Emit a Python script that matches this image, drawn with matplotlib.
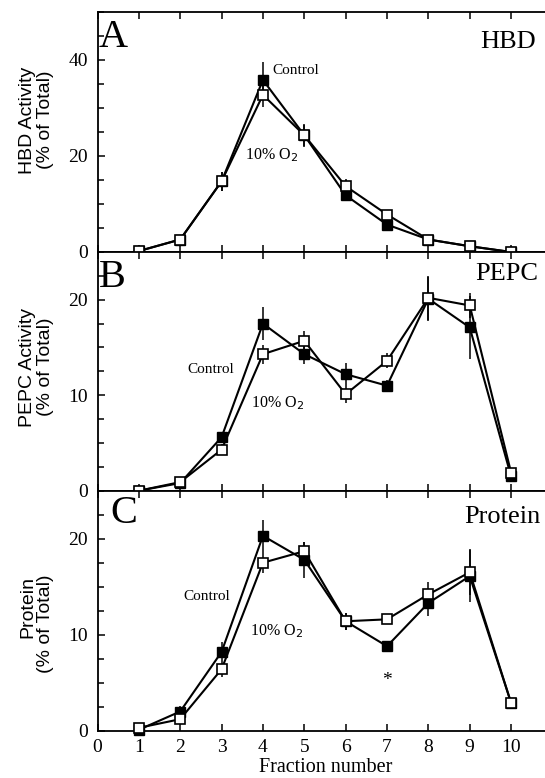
import matplotlib
matplotlib.use("Agg")
import matplotlib.pyplot as plt
from matplotlib.ticker import MultipleLocator

# ---------------- data ----------------
fractions = [1, 2, 3, 4, 5, 6, 7, 8, 9, 10]
xtick_labels = ["0", "1", "2", "3", "4", "5", "6", "7", "8", "9", "10"]

hbd_control = [0.2, 2.6, 14.7, 35.8, 24.3, 11.8, 5.7, 2.6, 1.2, 0.0]
hbd_control_err = [0.3, 0.5, 2.0, 3.8, 2.2, 1.2, 0.8, 0.3, 0.3, 0.3]
hbd_o2 = [0.2, 2.6, 14.7, 32.7, 24.3, 13.7, 7.8, 2.6, 1.2, 0.0]
hbd_o2_err = [0.3, 0.5, 2.0, 2.5, 2.4, 1.5, 0.9, 0.3, 0.3, 0.3]

pepc_control = [0.0, 0.8, 5.6, 17.5, 14.3, 12.2, 11.0, 20.1, 17.1, 1.5]
pepc_control_err = [0.2, 0.3, 0.6, 1.7, 1.0, 1.2, 0.6, 2.3, 3.3, 0.3]
pepc_o2 = [0.0, 0.9, 4.3, 14.3, 15.7, 10.1, 13.6, 20.2, 19.4, 1.9]
pepc_o2_err = [0.2, 0.3, 0.6, 1.0, 1.0, 0.9, 0.8, 2.3, 1.3, 0.3]

prot_control = [0.1, 2.0, 8.2, 20.3, 17.8, 11.4, 8.8, 13.3, 16.1, 2.9]
prot_control_err = [0.2, 0.6, 1.0, 1.7, 1.9, 0.9, 0.3, 1.3, 2.7, 0.5]
prot_o2 = [0.3, 1.2, 6.4, 17.5, 18.7, 11.4, 11.6, 14.2, 16.5, 2.9]
prot_o2_err = [0.2, 0.5, 0.8, 1.1, 1.0, 0.9, 0.3, 1.3, 2.4, 0.5]

SERIF = ["Liberation Serif", "DejaVu Serif"]
SANS = ["Liberation Sans", "DejaVu Sans"]

W, H = 545, 778
fig = plt.figure(figsize=(W / 100, H / 100), dpi=100)

def fx(x):
    return x / W

def fy(y):
    return 1 - y / H

left = 97.5
panels = [
    (11.7, 252.0, hbd_control, hbd_control_err, hbd_o2, hbd_o2_err, 50, 20, 5, "A", "HBD",
     (99, 47), (536, 48), (272, 71), (272, 155), "HBD Activity", "(% of Total)", 120, 120),
    (252.0, 490.7, pepc_control, pepc_control_err, pepc_o2, pepc_o2_err, 25, 10, 2.5, "B", "PEPC",
     (99, 287), (538, 280), (187, 370), (278, 403), "PEPC Activity", "(% of Total)", 367, 367),
    (490.7, 730.7, prot_control, prot_control_err, prot_o2, prot_o2_err, 25, 10, 2.5, "C", "Protein",
     (110, 523), (540, 523), (183, 597), (277, 631), "Protein", "(% of Total)", 607, 624),
]

axes = []
for (top, bot, ctrl, cerr, o2, oerr, ymax, major, minor, letter, name,
     lxy, nxy, cxy, oxy, yl1, yl2, yl1y, yl2y) in panels:
    ax = fig.add_axes([fx(left), fy(bot), 1 - fx(left), (bot - top) / H])
    axes.append(ax)
    ax.set_xlim(0, 10.82)
    ax.set_ylim(0, ymax)
    ax.spines["right"].set_visible(False)
    for s in ("left", "top", "bottom"):
        ax.spines[s].set_linewidth(1.3)
    ax.xaxis.set_major_locator(MultipleLocator(1))
    ax.yaxis.set_major_locator(MultipleLocator(major))
    ax.yaxis.set_minor_locator(MultipleLocator(minor))
    ax.tick_params(axis="both", which="both", direction="in", width=1.1)
    ax.tick_params(axis="both", which="major", length=5)
    ax.tick_params(axis="both", which="minor", length=4.5)
    ax.tick_params(axis="x", top=True, bottom=True, labelbottom=False)
    ax.tick_params(axis="y", left=True, right=False, labelsize=14, pad=7)
    for lab in ax.get_yticklabels():
        lab.set_family(SERIF)

    # Control: filled squares; 10% O2: open squares
    ax.errorbar(fractions, ctrl, yerr=cerr, fmt="none", ecolor="black", elinewidth=1.1,
                capsize=0, zorder=2)
    ax.errorbar(fractions, o2, yerr=oerr, fmt="none", ecolor="black", elinewidth=1.1,
                capsize=0, zorder=2)
    ax.plot(fractions, ctrl, color="black", lw=1.5, marker="s", ms=6.5,
            mfc="black", mec="black", mew=1.0, zorder=3, clip_on=False)
    ax.plot(fractions, o2, color="black", lw=1.5, marker="s", ms=6.5,
            mfc="white", mec="black", mew=1.2, zorder=4, clip_on=False)

    fig.text(fx(lxy[0]), fy(lxy[1]), letter, family=SERIF, fontsize=29,
             ha="left", va="baseline")
    fig.text(fx(nxy[0]), fy(nxy[1]), name, family=SERIF, fontsize=19,
             ha="right", va="baseline")
    fig.text(fx(cxy[0]), fy(cxy[1]), "Control", family=SERIF, fontsize=11,
             ha="left", va="center")
    fig.text(fx(oxy[0]), fy(oxy[1]), "10% O$_2$", family=SERIF, fontsize=11.5,
             ha="center", va="center")
    fig.text(fx(28), fy(yl1y), yl1, family=SANS, fontsize=14, rotation=90,
             ha="center", va="center")
    fig.text(fx(46), fy(yl2y), yl2, family=SANS, fontsize=14, rotation=90,
             ha="center", va="center")

axC = axes[-1]
axC.set_xticks(range(0, 11))
axC.tick_params(axis="x", labelbottom=True, labelsize=14, pad=6)
axC.set_xticklabels(xtick_labels)
for lab in axC.get_xticklabels():
    lab.set_family(SERIF)
axC.text(7, 5.2, "*", family=SERIF, fontsize=14, ha="center", va="center")
fig.text(fx(326), fy(768), "Fraction number", family=SERIF, fontsize=14.5,
         ha="center", va="center")

fig.savefig("out.png", dpi=100)
